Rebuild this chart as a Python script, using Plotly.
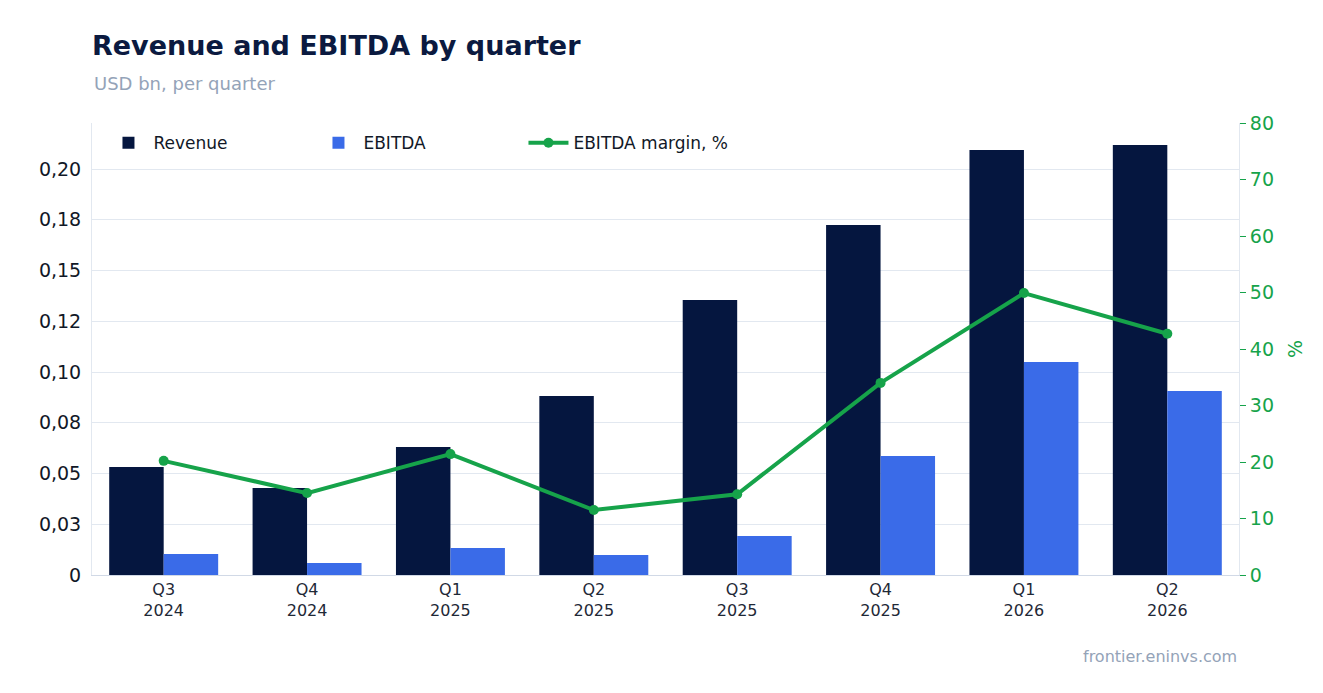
import plotly.graph_objects as go

quarters = ["Q3<br>2024","Q4<br>2024","Q1<br>2025","Q2<br>2025","Q3<br>2025","Q4<br>2025","Q1<br>2026","Q2<br>2026"]
revenue = [0.0532,0.0429,0.0631,0.0882,0.1355,0.1724,0.2094,0.2118]
ebitda = [0.0103,0.0059,0.0133,0.0099,0.0192,0.0586,0.1049,0.0906]
margin = [20.2,14.5,21.4,11.5,14.3,34.0,49.9,42.7]
left_ticks = [0,0.025,0.05,0.075,0.10,0.125,0.15,0.175,0.20]
left_labels = ["0","0,03","0,05","0,08","0,10","0,12","0,15","0,18","0,20"]

fig = go.Figure()
fig.add_bar(x=quarters, y=revenue, name="Revenue", marker=dict(color="#05163f", line_width=0))
fig.add_bar(x=quarters, y=ebitda, name="EBITDA", marker=dict(color="#3a6be8", line_width=0))
fig.add_scatter(x=quarters, y=margin, name="EBITDA margin, %", yaxis="y2",
                mode="lines+markers", line=dict(color="#16a34a", width=4),
                marker=dict(size=10, color="#16a34a"))

fig.update_layout(
    width=1323, height=693, plot_bgcolor="white", paper_bgcolor="white",
    font=dict(family="DejaVu Sans", size=17, color="#1f2937"),
    margin=dict(l=84, r=92, t=115, b=126),
    barmode="group", bargap=0.24, bargroupgap=0,
    title=dict(text="<b>Revenue and EBITDA by quarter</b>", x=0.0635, xanchor="left", y=0.96,
               font=dict(size=27, color="#0b1a40")),
    annotations=[
        dict(text="USD bn, per quarter", xref="paper", yref="paper", x=0, y=1.06,
             xanchor="left", yanchor="bottom", showarrow=False, font=dict(size=18, color="#94a3b8")),
        dict(text="frontier.eninvs.com", xref="paper", yref="paper", x=1, y=-0.205,
             xanchor="right", yanchor="bottom", showarrow=False, font=dict(size=16, color="#94a3b8")),
    ],
    legend=dict(orientation="h", x=0.01, y=0.995, xanchor="left", yanchor="top",
                entrywidth=155, itemwidth=40,
                bgcolor="rgba(255,255,255,0)", font=dict(size=17, color="#111827")),
    xaxis=dict(showgrid=False, tickfont=dict(size=16), linecolor="#d1d9e6", showline=True),
    yaxis=dict(range=[0,0.2227], tickvals=left_ticks, ticktext=left_labels, gridcolor="#e2e8f0",
               tickfont=dict(size=19, color="#111827"), showline=True, linecolor="#e2e8f0",
               ticks="outside", ticklen=6, tickcolor="white", zeroline=False),
    yaxis2=dict(range=[0,80], overlaying="y", side="right", dtick=10, showgrid=False,
                tickfont=dict(size=19, color="#16a34a"), showline=True, linecolor="#e2e8f0",
                ticks="outside", tickcolor="#16a34a", ticklen=6,
                title=dict(text="%", font=dict(size=19, color="#16a34a"))),
)
fig.write_html("out.html")
